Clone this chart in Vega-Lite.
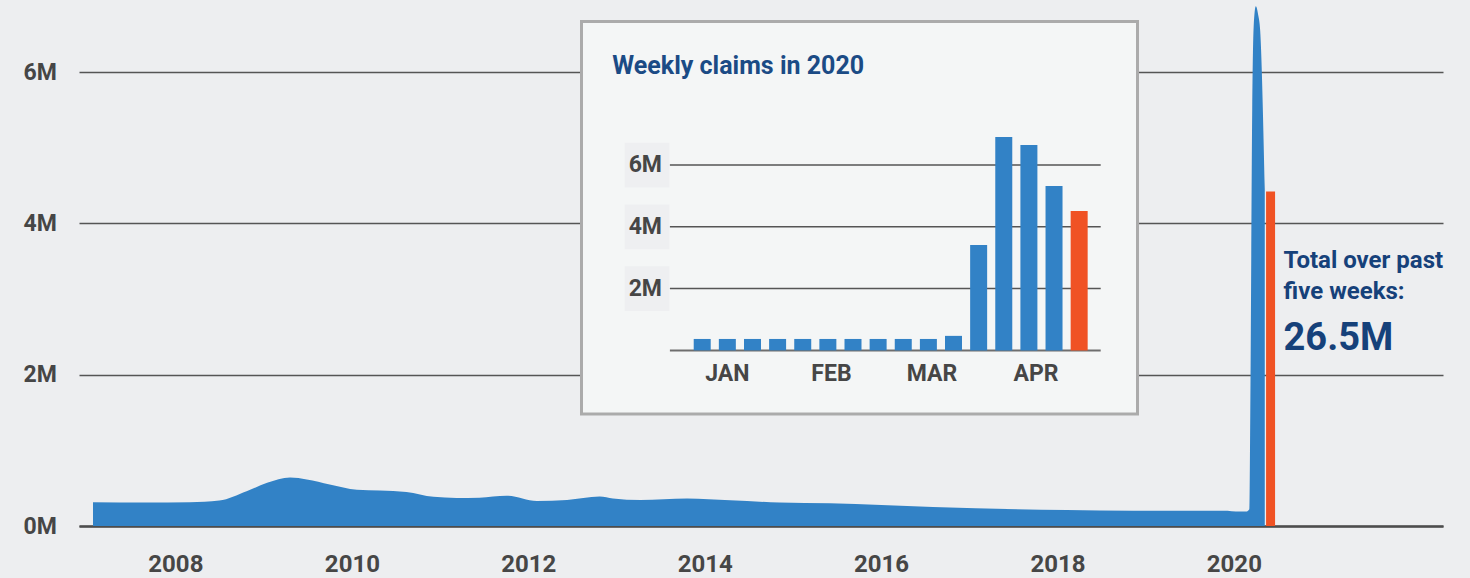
{
  "$schema": "https://vega.github.io/schema/vega-lite/v6.json",
  "width": 1364,
  "height": 526,
  "autosize": {"type": "none"},
  "padding": {"left": 79, "top": 0, "right": 27, "bottom": 52},
  "background": "#edeef0",
  "config": {
    "view": {"stroke": null},
    "font": "Roboto",
    "text": {"font": "Roboto", "fontWeight": "bold"},
    "axis": {"labelFont": "Roboto", "labelFontWeight": "bold"}
  },
  "datasets": {
    "history": [
      {"date": "2007-01-25", "claims": 315000},
      {"date": "2007-09-01", "claims": 310000},
      {"date": "2008-03-01", "claims": 315000},
      {"date": "2008-07-01", "claims": 337000},
      {"date": "2008-10-22", "claims": 460000},
      {"date": "2009-01-15", "claims": 570000},
      {"date": "2009-04-20", "claims": 640000},
      {"date": "2009-06-28", "claims": 615000},
      {"date": "2009-10-01", "claims": 550000},
      {"date": "2010-01-22", "claims": 480000},
      {"date": "2010-04-27", "claims": 470000},
      {"date": "2010-08-15", "claims": 450000},
      {"date": "2010-12-05", "claims": 385000},
      {"date": "2011-03-10", "claims": 370000},
      {"date": "2011-06-13", "claims": 375000},
      {"date": "2011-10-04", "claims": 400000},
      {"date": "2012-02-06", "claims": 330000},
      {"date": "2012-06-10", "claims": 345000},
      {"date": "2012-10-23", "claims": 390000},
      {"date": "2012-12-17", "claims": 365000},
      {"date": "2013-04-10", "claims": 345000},
      {"date": "2013-10-20", "claims": 365000},
      {"date": "2014-04-16", "claims": 340000},
      {"date": "2014-11-06", "claims": 310000},
      {"date": "2015-06-03", "claims": 300000},
      {"date": "2016-08-03", "claims": 250000},
      {"date": "2018-02-06", "claims": 210000},
      {"date": "2018-11-10", "claims": 200000},
      {"date": "2019-11-18", "claims": 200000},
      {"date": "2020-01-27", "claims": 190000},
      {"date": "2020-02-21", "claims": 190000},
      {"date": "2020-03-05", "claims": 220000},
      {"date": "2020-03-09", "claims": 1500000},
      {"date": "2020-03-17", "claims": 5500000},
      {"date": "2020-03-23", "claims": 6600000},
      {"date": "2020-04-01", "claims": 6870000},
      {"date": "2020-04-11", "claims": 6750000},
      {"date": "2020-04-19", "claims": 6550000},
      {"date": "2020-05-08", "claims": 4450000}
    ],
    "latest": [
      {"date": "2020-06-01", "claims": 4420000, "total": "26.5M"}
    ],
    "weekly": [
      {"week": "2020-01-04", "claims": 370000, "period": "earlier"},
      {"week": "2020-01-11", "claims": 370000, "period": "earlier"},
      {"week": "2020-01-18", "claims": 370000, "period": "earlier"},
      {"week": "2020-01-25", "claims": 370000, "period": "earlier"},
      {"week": "2020-02-01", "claims": 370000, "period": "earlier"},
      {"week": "2020-02-08", "claims": 370000, "period": "earlier"},
      {"week": "2020-02-15", "claims": 370000, "period": "earlier"},
      {"week": "2020-02-22", "claims": 370000, "period": "earlier"},
      {"week": "2020-02-29", "claims": 370000, "period": "earlier"},
      {"week": "2020-03-07", "claims": 370000, "period": "earlier"},
      {"week": "2020-03-14", "claims": 470000, "period": "earlier"},
      {"week": "2020-03-21", "claims": 3410000, "period": "earlier"},
      {"week": "2020-03-28", "claims": 6910000, "period": "earlier"},
      {"week": "2020-04-04", "claims": 6650000, "period": "earlier"},
      {"week": "2020-04-11", "claims": 5320000, "period": "earlier"},
      {"week": "2020-04-18", "claims": 4510000, "period": "latest"}
    ],
    "gridlines": [
      {"tick": 2000000, "label": "2M"},
      {"tick": 4000000, "label": "4M"},
      {"tick": 6000000, "label": "6M"}
    ],
    "months": [
      {"month": "JAN", "date": "2020-01-11"},
      {"month": "FEB", "date": "2020-02-09"},
      {"month": "MAR", "date": "2020-03-08"},
      {"month": "APR", "date": "2020-04-06"}
    ],
    "panel": [
      {"title": "Weekly claims in 2020"}
    ]
  },
  "layer": [
    {
      "layer": [
        {
          "data": {"name": "history"},
          "mark": {"type": "area", "interpolate": "monotone", "color": "#3282c6"},
          "encoding": {
            "x": {
              "field": "date", "type": "temporal",
              "scale": {"type": "utc", "padding": 0, "domain": [{"year": 2006, "month": 11, "date": 28, "utc": true}, {"year": 2022, "month": 5, "date": 16, "utc": true}]},
              "axis": {
                "values": [
                  {"year": 2008, "month": 1, "date": 1, "utc": true},
                  {"year": 2010, "month": 1, "date": 1, "utc": true},
                  {"year": 2012, "month": 1, "date": 1, "utc": true},
                  {"year": 2014, "month": 1, "date": 1, "utc": true},
                  {"year": 2016, "month": 1, "date": 1, "utc": true},
                  {"year": 2018, "month": 1, "date": 1, "utc": true},
                  {"year": 2020, "month": 1, "date": 1, "utc": true}
                ],
                "format": "%Y", "formatType": "utc",
                "title": null, "grid": false, "ticks": false, "tickSize": 0,
                "labelFontSize": 24, "labelColor": "#464646", "labelPadding": 26,
                "labelOverlap": false, "labelFlush": false,
                "domainColor": "#4d4d4d", "domainWidth": 2.5
              }
            },
            "y": {
              "field": "claims", "type": "quantitative",
              "scale": {"domain": [0, 6952000], "nice": false, "padding": 0},
              "axis": {
                "values": [0, 2000000, 4000000, 6000000],
                "labelExpr": "(datum.value / 1000000) + 'M'",
                "title": null, "domain": false, "ticks": false, "tickSize": 0,
                "grid": true, "gridColor": "#555555", "gridWidth": 1.5,
                "labelAlign": "left", "labelBaseline": "middle", "labelPadding": 56,
                "labelFontSize": 23, "labelColor": "#464646"
              }
            }
          }
        },
        {
          "data": {"name": "latest"},
          "mark": {"type": "bar", "size": 9, "color": "#f05224"},
          "encoding": {
            "x": {"field": "date", "type": "temporal"},
            "y": {"field": "claims", "type": "quantitative"}
          }
        },
        {
          "data": {"name": "latest"},
          "mark": {"type": "text", "align": "left", "baseline": "alphabetic", "dx": 13, "dy": 76.7, "fontSize": 24, "lineHeight": 31, "color": "#16417a", "text": ["Total over past", "five weeks:"]},
          "encoding": {
            "x": {"field": "date", "type": "temporal"},
            "y": {"field": "claims", "type": "quantitative"}
          }
        },
        {
          "data": {"name": "latest"},
          "mark": {"type": "text", "align": "left", "baseline": "alphabetic", "dx": 13, "dy": 158.4, "fontSize": 38, "color": "#16417a"},
          "encoding": {
            "x": {"field": "date", "type": "temporal"},
            "y": {"field": "claims", "type": "quantitative"},
            "text": {"field": "total"}
          }
        }
      ]
    },
    {
      "layer": [
        {
          "data": {"name": "panel"},
          "mark": {"type": "rect", "fill": "#f4f6f6", "stroke": "#ababab", "strokeWidth": 3},
          "encoding": {
            "x": {"datum": {"year": 2019, "month": 12, "date": 1, "hours": 9, "utc": true}, "type": "temporal", "axis": null,
                  "scale": {"type": "utc", "padding": 0, "domain": [{"year": 2019, "month": 12, "date": 1, "hours": 9, "utc": true}, {"year": 2020, "month": 5, "date": 4, "hours": 6, "utc": true}], "range": [502.5, 1058.5]}},
            "x2": {"datum": {"year": 2020, "month": 5, "date": 4, "hours": 6, "utc": true}},
            "y": {"datum": -2060000, "type": "quantitative", "axis": null,
                  "scale": {"domain": [-2060000, 10650000], "range": [414, 21.5], "nice": false, "zero": false, "padding": 0}},
            "y2": {"datum": 10650000}
          }
        },
        {
          "data": {"name": "gridlines"},
          "mark": {"type": "point", "shape": "square", "size": 2000, "filled": true, "color": "#eeeff1", "opacity": 1},
          "encoding": {
            "x": {"datum": {"year": 2019, "month": 12, "date": 19, "hours": 15, "utc": true}, "type": "temporal", "axis": null,
                  "scale": {"type": "utc", "padding": 0, "domain": [{"year": 2019, "month": 12, "date": 1, "hours": 9, "utc": true}, {"year": 2020, "month": 5, "date": 4, "hours": 6, "utc": true}], "range": [502.5, 1058.5]}},
            "y": {"field": "tick", "type": "quantitative", "axis": null,
                  "scale": {"domain": [-2060000, 10650000], "range": [414, 21.5], "nice": false, "zero": false, "padding": 0}}
          }
        },
        {
          "data": {"name": "gridlines"},
          "mark": {"type": "rule", "color": "#555555", "strokeWidth": 1.5},
          "encoding": {
            "x": {"datum": {"year": 2019, "month": 12, "date": 26, "utc": true}, "type": "temporal", "axis": null,
                  "scale": {"type": "utc", "padding": 0, "domain": [{"year": 2019, "month": 12, "date": 1, "hours": 9, "utc": true}, {"year": 2020, "month": 5, "date": 4, "hours": 6, "utc": true}], "range": [502.5, 1058.5]}},
            "x2": {"datum": {"year": 2020, "month": 4, "date": 24, "utc": true}},
            "y": {"field": "tick", "type": "quantitative", "axis": null,
                  "scale": {"domain": [-2060000, 10650000], "range": [414, 21.5], "nice": false, "zero": false, "padding": 0}}
          }
        },
        {
          "data": {"name": "panel"},
          "mark": {"type": "rule", "color": "#6e6e6e", "strokeWidth": 2},
          "encoding": {
            "x": {"datum": {"year": 2019, "month": 12, "date": 26, "utc": true}, "type": "temporal", "axis": null,
                  "scale": {"type": "utc", "padding": 0, "domain": [{"year": 2019, "month": 12, "date": 1, "hours": 9, "utc": true}, {"year": 2020, "month": 5, "date": 4, "hours": 6, "utc": true}], "range": [502.5, 1058.5]}},
            "x2": {"datum": {"year": 2020, "month": 4, "date": 24, "utc": true}},
            "y": {"datum": 0, "type": "quantitative", "axis": null,
                  "scale": {"domain": [-2060000, 10650000], "range": [414, 21.5], "nice": false, "zero": false, "padding": 0}}
          }
        },
        {
          "data": {"name": "weekly"},
          "mark": {"type": "bar", "size": 17},
          "encoding": {
            "x": {"field": "week", "type": "temporal", "axis": null,
                  "scale": {"type": "utc", "padding": 0, "domain": [{"year": 2019, "month": 12, "date": 1, "hours": 9, "utc": true}, {"year": 2020, "month": 5, "date": 4, "hours": 6, "utc": true}], "range": [502.5, 1058.5]}},
            "y": {"field": "claims", "type": "quantitative", "axis": null,
                  "scale": {"domain": [-2060000, 10650000], "range": [414, 21.5], "nice": false, "zero": false, "padding": 0}},
            "color": {"field": "period", "type": "nominal", "legend": null,
                      "scale": {"domain": ["earlier", "latest"], "range": ["#3282c6", "#f05224"]}}
          }
        },
        {
          "data": {"name": "gridlines"},
          "mark": {"type": "text", "align": "right", "baseline": "middle", "dx": 15, "fontSize": 23, "color": "#464646"},
          "encoding": {
            "x": {"datum": {"year": 2019, "month": 12, "date": 19, "hours": 15, "utc": true}, "type": "temporal", "axis": null,
                  "scale": {"type": "utc", "padding": 0, "domain": [{"year": 2019, "month": 12, "date": 1, "hours": 9, "utc": true}, {"year": 2020, "month": 5, "date": 4, "hours": 6, "utc": true}], "range": [502.5, 1058.5]}},
            "y": {"field": "tick", "type": "quantitative", "axis": null,
                  "scale": {"domain": [-2060000, 10650000], "range": [414, 21.5], "nice": false, "zero": false, "padding": 0}},
            "text": {"field": "label"}
          }
        },
        {
          "data": {"name": "months"},
          "mark": {"type": "text", "align": "center", "baseline": "middle", "dy": 23.8, "fontSize": 23, "color": "#464646"},
          "encoding": {
            "x": {"field": "date", "type": "temporal", "axis": null,
                  "scale": {"type": "utc", "padding": 0, "domain": [{"year": 2019, "month": 12, "date": 1, "hours": 9, "utc": true}, {"year": 2020, "month": 5, "date": 4, "hours": 6, "utc": true}], "range": [502.5, 1058.5]}},
            "y": {"datum": 0, "type": "quantitative", "axis": null,
                  "scale": {"domain": [-2060000, 10650000], "range": [414, 21.5], "nice": false, "zero": false, "padding": 0}},
            "text": {"field": "month"}
          }
        },
        {
          "data": {"name": "panel"},
          "mark": {"type": "text", "align": "left", "baseline": "alphabetic", "fontSize": 25, "color": "#1b4b85"},
          "encoding": {
            "x": {"datum": {"year": 2019, "month": 12, "date": 9, "hours": 23, "utc": true}, "type": "temporal", "axis": null,
                  "scale": {"type": "utc", "padding": 0, "domain": [{"year": 2019, "month": 12, "date": 1, "hours": 9, "utc": true}, {"year": 2020, "month": 5, "date": 4, "hours": 6, "utc": true}], "range": [502.5, 1058.5]}},
            "y": {"datum": 8940000, "type": "quantitative", "axis": null,
                  "scale": {"domain": [-2060000, 10650000], "range": [414, 21.5], "nice": false, "zero": false, "padding": 0}},
            "text": {"field": "title"}
          }
        }
      ]
    }
  ],
  "resolve": {
    "scale": {"x": "independent", "y": "independent"},
    "axis": {"x": "independent", "y": "independent"}
  }
}
